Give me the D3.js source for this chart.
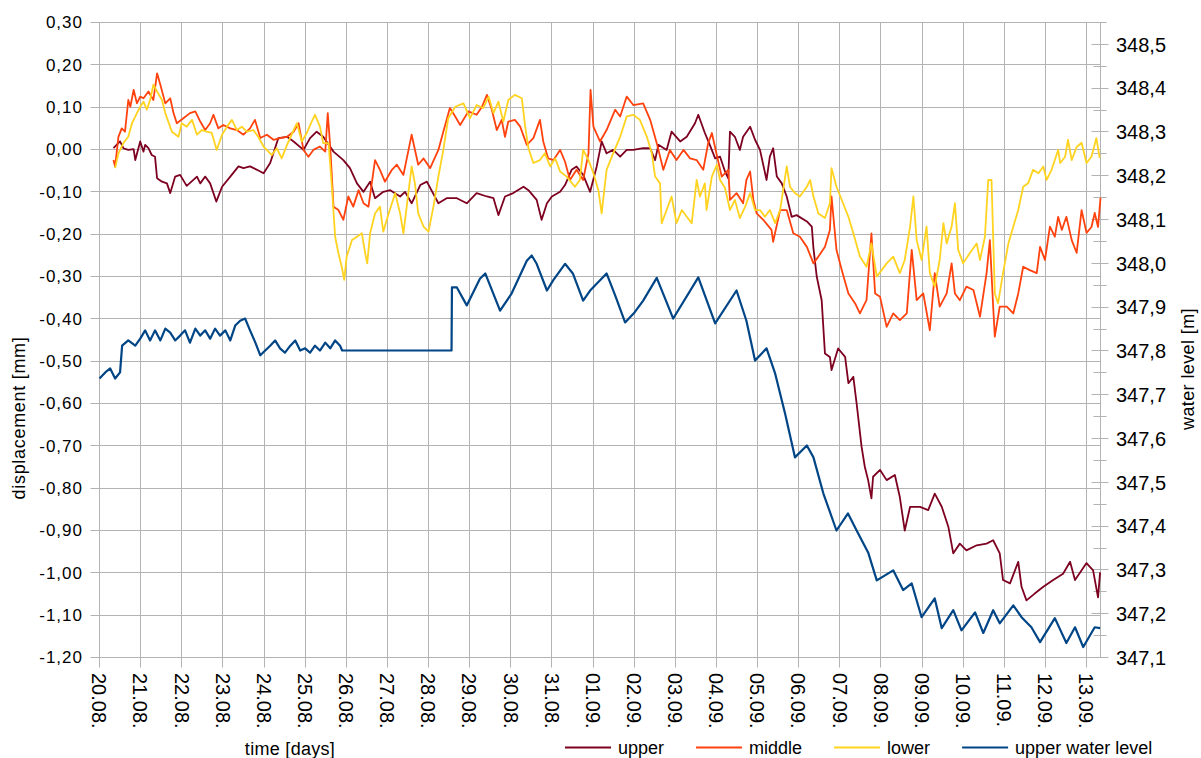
<!DOCTYPE html>
<html>
<head>
<meta charset="utf-8">
<script src="https://cdn.jsdelivr.net/npm/d3@7"></script>
<style>
  body { margin: 0; background: #fff; }
  svg { display: block; }
  text { font-family: "Liberation Sans", Arial, sans-serif; fill: #000; }
</style>
</head>
<body>
<script>
// day offsets from 20.08.
var xTickLabels = ["20.08.", "21.08.", "22.08.", "23.08.", "24.08.", "25.08.", "26.08.", "27.08.",
  "28.08.", "29.08.", "30.08.", "31.08.", "01.09.", "02.09.", "03.09.", "04.09.", "05.09.",
  "06.09.", "07.09.", "08.09.", "09.09.", "10.09.", "11.09.", "12.09.", "13.09."];
var leftTicks = [0.3, 0.2, 0.1, 0, -0.1, -0.2, -0.3, -0.4, -0.5, -0.6, -0.7, -0.8, -0.9, -1.0, -1.1, -1.2];
var rightTicks = [347.1, 347.2, 347.3, 347.4, 347.5, 347.6, 347.7, 347.8, 347.9, 348.0, 348.1, 348.2, 348.3, 348.4, 348.5];
var rightMinor = [347.15, 347.25, 347.35, 347.45, 347.55, 347.65, 347.75, 347.85, 347.95, 348.05, 348.15, 348.25, 348.35, 348.45, 348.55];
var seriesNames = ["upper", "middle", "lower", "upper water level"];
var seriesColors = ["#7e0021", "#ff420e", "#ffd320", "#004586"];

var upper = [[0.34,0.003],[0.50,0.019],[0.58,0.003],[0.70,-0.001],[0.83,0.001],[0.87,-0.025],[0.99,0.019],
  [1.07,-0.005],[1.11,0.011],[1.19,0.003],[1.27,-0.013],[1.35,-0.017],[1.40,-0.068],[1.52,-0.076],[1.64,-0.080],
  [1.72,-0.103],[1.84,-0.064],[1.96,-0.060],[2.12,-0.086],[2.37,-0.064],[2.45,-0.080],[2.57,-0.064],[2.69,-0.080],
  [2.84,-0.123],[2.98,-0.088],[3.18,-0.064],[3.38,-0.040],[3.50,-0.044],[3.66,-0.040],[3.83,-0.048],[3.99,-0.056],
  [4.15,-0.032],[4.35,0.027],[4.56,0.030],[4.72,0.019],[4.96,-0.001],[5.12,0.027],[5.28,0.042],[5.44,0.030],
  [5.69,-0.005],[5.93,-0.025],[6.09,-0.044],[6.26,-0.080],[6.42,-0.100],[6.58,-0.076],[6.70,-0.115],[6.90,-0.100],
  [7.07,-0.096],[7.31,-0.111],[7.43,-0.100],[7.59,-0.127],[7.80,-0.084],[7.96,-0.076],[8.24,-0.127],[8.44,-0.115],
  [8.69,-0.115],[8.93,-0.127],[9.17,-0.103],[9.42,-0.111],[9.58,-0.115],[9.70,-0.155],[9.86,-0.111],[10.06,-0.103],
  [10.31,-0.088],[10.43,-0.096],[10.63,-0.119],[10.75,-0.166],[10.88,-0.127],[11.00,-0.111],[11.20,-0.100],
  [11.32,-0.084],[11.48,-0.048],[11.60,-0.040],[11.76,-0.060],[11.93,-0.100],[12.09,-0.040],[12.21,0.019],
  [12.33,-0.009],[12.49,-0.001],[12.66,-0.017],[12.82,-0.001],[12.98,-0.001],[13.22,0.003],[13.39,0.003],
  [13.51,-0.025],[13.59,0.011],[13.79,-0.001],[13.91,0.042],[14.12,0.019],[14.28,0.030],[14.48,0.062],[14.56,0.082],
  [14.72,0.039],[14.84,0.011],[14.97,-0.021],[15.09,-0.017],[15.21,-0.052],[15.29,-0.068],[15.33,0.042],[15.45,0.030],
  [15.57,-0.001],[15.65,0.030],[15.82,0.054],[15.94,0.023],[16.06,-0.001],[16.22,-0.072],[16.30,-0.017],[16.38,0.003],
  [16.47,-0.064],[16.59,-0.080],[16.71,-0.111],[16.83,-0.159],[16.95,-0.155],[17.20,-0.170],[17.32,-0.182],
  [17.36,-0.233],[17.44,-0.300],[17.56,-0.356],[17.64,-0.482],[17.76,-0.490],[17.80,-0.521],[17.96,-0.470],
  [18.13,-0.490],[18.21,-0.552],[18.33,-0.537],[18.41,-0.600],[18.53,-0.702],[18.61,-0.750],[18.69,-0.781],
  [18.77,-0.824],[18.81,-0.773],[18.98,-0.757],[19.14,-0.781],[19.34,-0.769],[19.46,-0.821],[19.58,-0.900],
  [19.71,-0.844],[19.95,-0.844],[20.15,-0.852],[20.31,-0.813],[20.48,-0.844],[20.64,-0.891],[20.76,-0.954],
  [20.92,-0.931],[21.08,-0.947],[21.33,-0.935],[21.57,-0.931],[21.73,-0.923],[21.89,-0.954],[21.97,-1.017],
  [22.14,-1.025],[22.34,-0.974],[22.42,-1.033],[22.54,-1.065],[22.74,-1.049],[22.95,-1.033],[23.19,-1.017],
  [23.43,-1.002],[23.60,-0.974],[23.72,-1.017],[24.00,-0.977],[24.16,-0.994],[24.28,-1.058],[24.33,-0.999]];

var middle = [[0.34,-0.025],[0.38,-0.040],[0.46,0.030],[0.54,0.050],[0.62,0.042],[0.70,0.117],[0.75,0.101],
  [0.83,0.141],[0.91,0.109],[0.99,0.125],[1.07,0.121],[1.19,0.137],[1.31,0.117],[1.40,0.180],[1.48,0.153],
  [1.60,0.109],[1.72,0.121],[1.80,0.086],[1.88,0.062],[2.04,0.074],[2.20,0.086],[2.33,0.090],[2.45,0.066],
  [2.57,0.046],[2.69,0.062],[2.77,0.082],[2.89,0.050],[3.01,0.058],[3.18,0.050],[3.34,0.046],[3.50,0.035],
  [3.66,0.050],[3.78,0.070],[3.91,0.027],[4.07,0.035],[4.23,0.023],[4.39,0.027],[4.56,0.030],[4.72,0.042],
  [4.84,0.062],[4.96,-0.001],[5.08,-0.017],[5.20,-0.001],[5.36,0.007],[5.49,-0.005],[5.55,0.086],[5.61,0.007],
  [5.69,-0.135],[5.81,-0.143],[5.93,-0.166],[6.05,-0.111],[6.17,-0.135],[6.30,-0.096],[6.42,-0.127],[6.54,-0.135],
  [6.70,-0.025],[6.82,-0.048],[6.94,-0.076],[7.11,-0.048],[7.23,-0.036],[7.39,-0.060],[7.59,0.035],[7.75,-0.036],
  [7.88,-0.021],[8.04,-0.044],[8.24,-0.001],[8.36,0.042],[8.52,0.098],[8.65,0.078],[8.77,0.058],[8.97,0.090],
  [9.17,0.082],[9.30,0.101],[9.42,0.129],[9.54,0.094],[9.66,0.046],[9.78,0.070],[9.86,0.030],[9.94,0.066],
  [10.10,0.070],[10.23,0.054],[10.39,0.011],[10.55,0.027],[10.71,0.070],[10.79,0.019],[10.91,-0.021],[11.04,-0.025],
  [11.20,-0.001],[11.32,-0.029],[11.44,-0.072],[11.60,-0.048],[11.76,-0.072],[11.89,-0.009],[11.94,0.141],
  [12.01,0.054],[12.17,0.019],[12.33,0.046],[12.54,0.094],[12.66,0.078],[12.82,0.125],[12.98,0.105],[13.22,0.109],
  [13.39,0.070],[13.55,0.015],[13.71,-0.048],[13.87,-0.001],[14.03,-0.025],[14.20,-0.001],[14.36,-0.021],
  [14.52,-0.025],[14.68,-0.048],[14.80,0.015],[14.89,0.039],[15.01,-0.013],[15.13,-0.064],[15.29,-0.048],
  [15.33,-0.119],[15.49,-0.103],[15.65,-0.127],[15.73,-0.072],[15.82,-0.052],[15.90,-0.119],[15.98,-0.151],
  [16.14,-0.166],[16.34,-0.190],[16.38,-0.218],[16.55,-0.143],[16.71,-0.143],[16.87,-0.198],[17.03,-0.206],
  [17.20,-0.230],[17.36,-0.269],[17.48,-0.253],[17.64,-0.230],[17.76,-0.190],[17.80,-0.111],[17.92,-0.237],
  [18.05,-0.285],[18.21,-0.340],[18.37,-0.363],[18.49,-0.387],[18.65,-0.356],[18.77,-0.198],[18.86,-0.340],
  [18.98,-0.348],[19.14,-0.419],[19.30,-0.387],[19.46,-0.403],[19.63,-0.387],[19.75,-0.237],[19.87,-0.356],
  [20.03,-0.340],[20.19,-0.427],[20.31,-0.292],[20.43,-0.371],[20.60,-0.340],[20.72,-0.269],[20.80,-0.340],
  [20.92,-0.356],[21.08,-0.324],[21.25,-0.332],[21.41,-0.395],[21.57,-0.292],[21.65,-0.214],[21.73,-0.371],
  [21.77,-0.442],[21.89,-0.371],[22.06,-0.371],[22.22,-0.387],[22.34,-0.340],[22.46,-0.277],[22.62,-0.285],
  [22.79,-0.292],[22.87,-0.230],[22.99,-0.261],[23.11,-0.182],[23.23,-0.206],[23.31,-0.159],[23.40,-0.190],
  [23.51,-0.159],[23.64,-0.214],[23.76,-0.244],[23.88,-0.143],[24.00,-0.197],[24.12,-0.183],[24.20,-0.150],
  [24.28,-0.183],[24.34,-0.114]];

var lower = [[0.38,-0.044],[0.46,-0.009],[0.58,0.015],[0.70,0.030],[0.79,0.062],[0.91,0.086],[0.99,0.101],
  [1.07,0.113],[1.15,0.094],[1.23,0.117],[1.31,0.153],[1.40,0.137],[1.52,0.117],[1.60,0.086],[1.76,0.042],
  [1.92,0.030],[2.00,0.062],[2.12,0.054],[2.25,0.070],[2.37,0.035],[2.49,0.046],[2.61,0.042],[2.73,0.039],
  [2.85,-0.001],[2.98,0.035],[3.10,0.054],[3.22,0.070],[3.34,0.046],[3.46,0.054],[3.58,0.042],[3.74,0.046],
  [3.86,0.030],[3.99,0.007],[4.19,-0.013],[4.31,0.003],[4.43,-0.021],[4.56,0.011],[4.72,0.046],[4.80,0.062],
  [4.92,0.019],[5.04,0.039],[5.16,0.066],[5.24,0.082],[5.36,0.054],[5.44,0.015],[5.57,0.015],[5.65,-0.088],
  [5.73,-0.206],[5.81,-0.245],[5.89,-0.277],[5.95,-0.308],[6.01,-0.253],[6.14,-0.214],[6.26,-0.206],[6.38,-0.198],
  [6.46,-0.245],[6.51,-0.269],[6.58,-0.198],[6.70,-0.151],[6.82,-0.135],[6.90,-0.194],[7.02,-0.155],[7.19,-0.103],
  [7.31,-0.151],[7.39,-0.198],[7.51,-0.103],[7.59,-0.040],[7.67,-0.080],[7.75,-0.151],[7.88,-0.182],[8.00,-0.194],
  [8.12,-0.135],[8.24,-0.064],[8.36,-0.001],[8.48,0.074],[8.65,0.101],[8.85,0.109],[9.01,0.074],[9.17,0.105],
  [9.33,0.098],[9.46,0.125],[9.58,0.086],[9.70,0.113],[9.82,0.066],[9.94,0.117],[10.10,0.129],[10.27,0.121],
  [10.35,0.054],[10.43,0.003],[10.55,-0.032],[10.71,-0.025],[10.83,-0.009],[10.96,-0.040],[11.08,-0.021],
  [11.20,-0.052],[11.36,-0.064],[11.56,-0.088],[11.68,-0.072],[11.76,-0.001],[11.89,-0.025],[12.01,-0.056],
  [12.13,-0.096],[12.21,-0.151],[12.33,-0.048],[12.49,-0.009],[12.66,0.030],[12.82,0.078],[12.98,0.082],
  [13.14,0.070],[13.31,0.030],[13.43,-0.009],[13.51,-0.064],[13.63,-0.080],[13.67,-0.174],[13.79,-0.143],
  [13.91,-0.111],[14.03,-0.174],[14.16,-0.143],[14.28,-0.159],[14.40,-0.174],[14.52,-0.072],[14.60,-0.111],
  [14.72,-0.080],[14.76,-0.143],[14.89,-0.064],[15.01,-0.036],[15.09,-0.072],[15.21,-0.091],[15.33,-0.143],
  [15.45,-0.119],[15.57,-0.162],[15.70,-0.135],[15.82,-0.103],[15.94,-0.143],[16.06,-0.143],[16.18,-0.159],
  [16.30,-0.143],[16.43,-0.174],[16.55,-0.143],[16.71,-0.040],[16.79,-0.088],[16.91,-0.103],[17.03,-0.111],
  [17.20,-0.088],[17.28,-0.072],[17.36,-0.111],[17.48,-0.151],[17.64,-0.162],[17.76,-0.127],[17.80,-0.044],
  [17.92,-0.088],[18.08,-0.127],[18.21,-0.159],[18.33,-0.198],[18.49,-0.253],[18.65,-0.277],[18.77,-0.222],
  [18.90,-0.300],[19.02,-0.285],[19.14,-0.269],[19.30,-0.253],[19.46,-0.292],[19.58,-0.261],[19.71,-0.182],
  [19.79,-0.111],[19.87,-0.214],[19.99,-0.261],[20.11,-0.182],[20.19,-0.292],[20.31,-0.324],[20.43,-0.261],
  [20.52,-0.174],[20.60,-0.222],[20.72,-0.182],[20.80,-0.127],[20.88,-0.237],[21.00,-0.269],[21.16,-0.245],
  [21.33,-0.222],[21.41,-0.261],[21.53,-0.206],[21.61,-0.072],[21.69,-0.072],[21.77,-0.340],[21.85,-0.363],
  [21.97,-0.292],[22.10,-0.222],[22.22,-0.182],[22.34,-0.143],[22.46,-0.088],[22.58,-0.080],[22.70,-0.048],
  [22.83,-0.056],[22.95,-0.040],[23.03,-0.072],[23.15,-0.048],[23.23,-0.025],[23.31,-0.001],[23.36,-0.032],
  [23.48,-0.017],[23.55,0.023],[23.64,-0.025],[23.76,0.006],[23.88,0.016],[24.00,-0.032],[24.12,-0.017],
  [24.24,0.027],[24.32,-0.020]];

var waterLevel = [[0.00,347.737],[0.14,347.751],[0.26,347.760],[0.38,347.737],[0.50,347.751],[0.55,347.812],
  [0.70,347.824],[0.87,347.812],[0.99,347.828],[1.11,347.847],[1.23,347.824],[1.35,347.847],[1.48,347.824],
  [1.60,347.851],[1.72,347.842],[1.84,347.824],[1.96,347.835],[2.08,347.847],[2.20,347.819],[2.33,347.851],
  [2.45,347.835],[2.57,347.847],[2.69,347.828],[2.81,347.851],[2.93,347.835],[3.06,347.847],[3.18,347.824],
  [3.30,347.858],[3.42,347.869],[3.54,347.874],[3.66,347.847],[3.79,347.819],[3.91,347.790],[4.03,347.801],
  [4.15,347.812],[4.27,347.824],[4.39,347.806],[4.51,347.796],[4.64,347.812],[4.76,347.824],[4.88,347.801],
  [5.00,347.806],[5.12,347.796],[5.24,347.812],[5.36,347.801],[5.49,347.819],[5.61,347.806],[5.73,347.824],
  [5.85,347.812],[5.90,347.801],[8.56,347.801],[8.57,347.945],[8.69,347.945],[8.93,347.904],[9.25,347.965],
  [9.38,347.977],[9.74,347.892],[10.02,347.931],[10.39,348.006],[10.51,348.018],[10.63,347.999],[10.88,347.938],
  [11.03,347.961],[11.32,347.999],[11.51,347.977],[11.76,347.915],[11.93,347.938],[12.33,347.977],[12.55,347.924],
  [12.78,347.865],[13.01,347.888],[13.22,347.915],[13.55,347.967],[13.95,347.874],[14.56,347.968],[14.97,347.863],
  [15.49,347.938],[15.73,347.869],[15.94,347.778],[16.22,347.806],[16.43,347.748],[16.67,347.657],[16.91,347.557],
  [17.20,347.584],[17.36,347.557],[17.60,347.475],[17.92,347.390],[18.20,347.429],[18.41,347.390],[18.69,347.340],
  [18.90,347.276],[19.30,347.299],[19.54,347.254],[19.75,347.269],[19.99,347.192],[20.31,347.235],[20.48,347.167],
  [20.76,347.208],[20.96,347.162],[21.29,347.203],[21.49,347.156],[21.73,347.208],[21.89,347.178],[22.22,347.219],
  [22.42,347.192],[22.66,347.169],[22.87,347.135],[23.23,347.190],[23.51,347.133],[23.72,347.169],[23.92,347.124],
  [24.20,347.169],[24.33,347.167]];

var width = 1201, height = 758;
var plotLeft = 99.5, plotRight = 1100.5, plotTop = 22.5, plotBottom = 657.5;

var svg = d3.select("body").append("svg")
  .attr("width", width)
  .attr("height", height);

var x = d3.scaleLinear().domain([0, 24.34]).range([plotLeft, plotRight]);
var yL = d3.scaleLinear().domain([-1.2, 0.3]).range([plotBottom, plotTop]);
var yR = d3.scaleLinear().domain([347.1, 348.55]).range([plotBottom, plotTop]);

function comma(v, n) { return v.toFixed(n).replace(".", ","); }
function px(v) { return Math.round(v - 0.5) + 0.5; }

var grid = svg.append("g").attr("stroke", "#b3b3b3").attr("stroke-width", 1).attr("fill", "none");

// horizontal grid + left ticks
grid.selectAll(".hg").data(leftTicks).enter().append("line")
  .attr("x1", plotLeft - 9).attr("x2", plotRight)
  .attr("y1", function (d) { return px(yL(d)); })
  .attr("y2", function (d) { return px(yL(d)); });

// vertical grid + bottom ticks
grid.selectAll(".vg").data(xTickLabels).enter().append("line")
  .attr("x1", function (d, i) { return px(x(i)); })
  .attr("x2", function (d, i) { return px(x(i)); })
  .attr("y1", plotTop).attr("y2", plotBottom + 10);

// secondary axis line and ticks
grid.append("line").attr("x1", plotRight).attr("x2", plotRight).attr("y1", plotTop).attr("y2", plotBottom);
grid.selectAll(".rt").data(rightTicks).enter().append("line")
  .attr("x1", plotRight - 9).attr("x2", plotRight + 8)
  .attr("y1", function (d) { return px(yR(d)); })
  .attr("y2", function (d) { return px(yR(d)); });
grid.selectAll(".rm").data(rightMinor).enter().append("line")
  .attr("x1", plotRight - 7).attr("x2", plotRight + 6)
  .attr("y1", function (d) { return px(yR(d)); })
  .attr("y2", function (d) { return px(yR(d)); });

// tick labels
svg.append("g").selectAll("text").data(leftTicks).enter().append("text")
  .attr("x", 83).attr("y", function (d) { return yL(d); })
  .attr("dy", "0.35em")
  .attr("text-anchor", "end")
  .style("font-size", "17px")
  .style("letter-spacing", "1px")
  .text(function (d) { return comma(d, 2); });

svg.append("g").selectAll("text").data(rightTicks).enter().append("text")
  .attr("x", 1116).attr("y", function (d) { return yR(d); })
  .attr("dy", "0.36em")
  .style("font-size", "20px")
  .text(function (d) { return comma(d, 1); });

svg.append("g").selectAll("text").data(xTickLabels).enter().append("text")
  .attr("transform", function (d, i) { return "translate(" + x(i) + ",673) rotate(90)"; })
  .attr("dy", "0.36em")
  .style("font-size", "20px")
  .text(function (d) { return d; });

// axis titles
svg.append("text")
  .attr("transform", "translate(25,418) rotate(-90)")
  .attr("text-anchor", "middle")
  .style("font-size", "18px")
  .style("letter-spacing", "0.7px")
  .text("displacement [mm]");

svg.append("text")
  .attr("transform", "translate(1194,369) rotate(-90)")
  .attr("text-anchor", "middle")
  .style("font-size", "18px")
  .style("letter-spacing", "0.4px")
  .text("water level [m]");

svg.append("text")
  .attr("x", 290).attr("y", 755)
  .attr("text-anchor", "middle")
  .style("font-size", "18px")
  .style("letter-spacing", "0.3px")
  .text("time [days]");

// series lines
var lineL = d3.line()
  .x(function (d) { return x(d[0]); })
  .y(function (d) { return yL(d[1]); });
var lineR = d3.line()
  .x(function (d) { return x(d[0]); })
  .y(function (d) { return yR(d[1]); });

var plot = svg.append("g").attr("fill", "none").attr("stroke-linejoin", "round");
plot.append("path").datum(upper).attr("stroke", seriesColors[0]).attr("stroke-width", 1.8).attr("d", lineL);
plot.append("path").datum(middle).attr("stroke", seriesColors[1]).attr("stroke-width", 1.8).attr("d", lineL);
plot.append("path").datum(lower).attr("stroke", seriesColors[2]).attr("stroke-width", 1.8).attr("d", lineL);
plot.append("path").datum(waterLevel).attr("stroke", seriesColors[3]).attr("stroke-width", 2.2).attr("d", lineR);

// legend
var legend = svg.append("g");
var lx = 565;
seriesNames.forEach(function (name, i) {
  legend.append("line")
    .attr("x1", lx).attr("x2", lx + 46)
    .attr("y1", 747.5).attr("y2", 747.5)
    .attr("stroke", seriesColors[i]).attr("stroke-width", 2);
  var t = legend.append("text")
    .attr("x", lx + 53).attr("y", 747.5)
    .attr("dy", "0.35em")
    .style("font-size", "18px")
    .text(name);
  lx += 53 + t.node().getComputedTextLength() + 32;
});
</script>
</body>
</html>
